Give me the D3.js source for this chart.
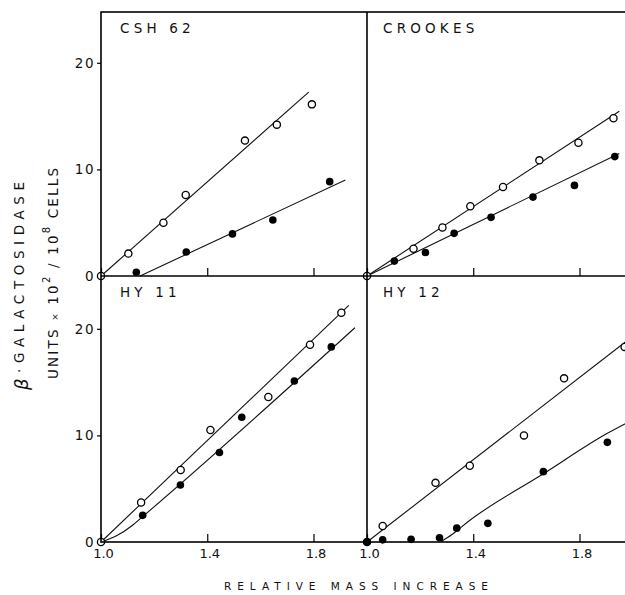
<!DOCTYPE html>
<html><head><meta charset="utf-8">
<script src="https://cdn.jsdelivr.net/npm/d3@7"></script>
<style>body{margin:0;background:#fff} svg{display:block}</style>
</head><body>
<svg id="c" width="625" height="595"></svg>
<script>
// ---- data ----
const panelNames = ["CSH 62", "CROOKES", "HY 11", "HY 12"];
const xTicks = [1.0, 1.4, 1.8];
const xTickLabels = ["1.0", "1.4", "1.8"];
const yTicks = [0, 10, 20];
const yTickLabels = ["0", "10", "20"];
const xLabel = "RELATIVE MASS INCREASE";

const csh62Open = [[1.0,0],[1.103,2.1],[1.235,5.0],[1.319,7.6],[1.542,12.7],[1.662,14.2],[1.794,16.1]];
const csh62Filled = [[1.133,0.35],[1.321,2.25],[1.495,3.95],[1.647,5.25],[1.861,8.85]];
const csh62OpenFit = [[1.0,0],[1.782,17.25]];
const csh62FilledFit = [[1.147,0],[1.92,9.0]];

const crookesOpen = [[1.0,0],[1.175,2.55],[1.284,4.55],[1.389,6.55],[1.512,8.35],[1.649,10.85],[1.796,12.5],[1.928,14.8]];
const crookesFilled = [[1.103,1.4],[1.22,2.2],[1.328,4.0],[1.467,5.5],[1.625,7.4],[1.781,8.5],[1.933,11.2]];
const crookesOpenFit = [[1.0,0],[1.95,15.45]];
const crookesFilledFit = [[1.0,0],[1.95,11.5]];

const hy11Open = [[1.0,0],[1.151,3.7],[1.30,6.75],[1.412,10.5],[1.63,13.6],[1.787,18.5],[1.905,21.5]];
const hy11Filled = [[1.157,2.5],[1.299,5.35],[1.446,8.4],[1.53,11.7],[1.728,15.1],[1.867,18.3]];
const hy11OpenFit = [[1.0,0],[1.933,22.2]];
const hy11FilledFit = [[1.0,0],[1.06,0.6],[1.12,1.6],[1.16,2.45],[1.956,20.1]];

const hy12Open = [[1.0,0],[1.059,1.5],[1.258,5.55],[1.387,7.15],[1.591,10.0],[1.742,15.35],[1.97,18.3]];
const hy12Filled = [[1.0,0],[1.059,0.2],[1.166,0.25],[1.273,0.4],[1.338,1.3],[1.455,1.75],[1.664,6.6],[1.905,9.35]];
const hy12OpenFit = [[1.0,0],[1.98,18.9]];
const hy12FilledFit = [[1.28,0.05],[1.32,0.7],[1.38,1.9],[1.664,6.4],[1.905,10.2],[1.98,11.2]];

const panelOpen = [csh62Open, crookesOpen, hy11Open, hy12Open];
const panelFilled = [csh62Filled, crookesFilled, hy11Filled, hy12Filled];
const panelOpenFit = [csh62OpenFit, crookesOpenFit, hy11OpenFit, hy12OpenFit];
const panelFilledFit = [csh62FilledFit, crookesFilledFit, hy11FilledFit, hy12FilledFit];

// ---- layout ----
const svg = d3.select("#c");
const font = "'DejaVu Sans', sans-serif";
const colX0 = [101, 367];
const rowY0 = [276, 542];
const pxPerX = 265.6;   // per 1.0 unit of relative mass
const pxPerY = 10.66;   // per unit of activity
const frameTop = 12, frameLeft = 101, frameRight = 633, frameBottom = 542;

const defs = svg.append("defs");

panelNames.forEach((name, i) => {
  const col = i % 2, row = Math.floor(i / 2);
  const x = d3.scaleLinear().domain([1, 2]).range([colX0[col], colX0[col] + pxPerX]);
  const y = d3.scaleLinear().domain([0, 20]).range([rowY0[row], rowY0[row] - 20 * pxPerY]);
  const g = svg.append("g");

  // x axis (inward ticks)
  const xa = d3.axisBottom(x).tickValues(xTicks).tickSize(-8).tickPadding(7)
    .tickFormat((d, k) => row === 1 ? xTickLabels[k] : "");
  const gx = g.append("g").attr("transform", `translate(0,${rowY0[row]})`).call(xa);
  gx.select(".domain").remove();
  gx.selectAll("line").attr("stroke", "#000").attr("stroke-width", 1.2);
  gx.selectAll("text").attr("font-family", font).attr("font-size", 13).attr("fill", "#111")
    .attr("dx", 2).attr("letter-spacing", 0);

  if (col === 0) {
    const ya = d3.axisLeft(y).tickValues(yTicks).tickSize(4).tickPadding(2)
      .tickFormat((d, k) => yTickLabels[k]);
    const gy = g.append("g").attr("transform", `translate(${colX0[col]},0)`).call(ya);
    gy.select(".domain").remove();
    gy.selectAll("line").attr("stroke", "#000").attr("stroke-width", 1.2);
    gy.selectAll("text").attr("font-family", font).attr("font-size", 13.5).attr("fill", "#111")
      .attr("letter-spacing", 1.5);
  }

  const clipId = "clip" + i;
  defs.append("clipPath").attr("id", clipId).append("rect")
    .attr("x", colX0[col] - 6).attr("y", rowY0[row] - 266).attr("width", 280).attr("height", 272);
  const pg = g.append("g").attr("clip-path", `url(#${clipId})`);

  const line = d3.line().x(d => x(d[0])).y(d => y(d[1])).curve(d3.curveMonotoneX);
  pg.append("path").attr("d", line(panelOpenFit[i])).attr("fill", "none")
    .attr("stroke", "#111").attr("stroke-width", 1.1);
  pg.append("path").attr("d", line(panelFilledFit[i])).attr("fill", "none")
    .attr("stroke", "#111").attr("stroke-width", 1.1);

  pg.selectAll("circle.o").data(panelOpen[i]).enter().append("circle")
    .attr("cx", d => x(d[0])).attr("cy", d => y(d[1])).attr("r", 3.6)
    .attr("fill", "#fff").attr("stroke", "#000").attr("stroke-width", 1.3);
  pg.selectAll("circle.f").data(panelFilled[i]).enter().append("circle")
    .attr("cx", d => x(d[0])).attr("cy", d => y(d[1])).attr("r", 3.8)
    .attr("fill", "#000");

  g.append("text").attr("x", colX0[col] + (col === 0 ? 19 : 16)).attr("y", rowY0[row] - 266 + (row === 0 ? 23 : 21))
    .attr("font-family", font).attr("font-size", 13.5).attr("letter-spacing", 4.2).attr("fill", "#111")
    .text(name);
});

// frame
const fr = svg.append("g").attr("fill", "none").attr("stroke", "#000").attr("stroke-width", 1.6);
fr.append("rect").attr("x", frameLeft).attr("y", frameTop).attr("width", frameRight - frameLeft).attr("height", frameBottom - frameTop);
fr.append("line").attr("x1", colX0[1]).attr("x2", colX0[1]).attr("y1", frameTop).attr("y2", frameBottom);
fr.append("line").attr("x1", frameLeft).attr("x2", frameRight).attr("y1", rowY0[0]).attr("y2", rowY0[0]);

// x label
svg.append("text").attr("x", 224).attr("y", 589.5).attr("textLength", 264).attr("lengthAdjust", "spacing")
  .attr("font-family", font).attr("font-size", 10.5).attr("fill", "#111").text(xLabel);

// y label (two lines, rotated)
const yl1 = svg.append("text").attr("transform", "translate(23.5,390) rotate(-90)")
  .attr("font-family", font).attr("font-size", 13.5).attr("fill", "#111")
  .attr("textLength", 208).attr("lengthAdjust", "spacing");
yl1.append("tspan").attr("font-size", 18).attr("font-style", "italic").attr("dy", 4).text("β");
yl1.append("tspan").attr("dy", -4).text("·GALACTOSIDASE");

const yl2 = svg.append("text").attr("transform", "translate(57.5,379) rotate(-90)")
  .attr("font-family", font).attr("font-size", 13.5).attr("fill", "#111")
  .attr("textLength", 211).attr("lengthAdjust", "spacing");
yl2.append("tspan").text("UNITS ");
yl2.append("tspan").attr("font-size", 9).text("×");
yl2.append("tspan").text(" 10");
yl2.append("tspan").attr("font-size", 10).attr("dy", -8).text("2");
yl2.append("tspan").attr("dy", 8).text(" / 10");
yl2.append("tspan").attr("font-size", 10).attr("dy", -8).text("8");
yl2.append("tspan").attr("dy", 8).text(" CELLS");
</script>
</body></html>
